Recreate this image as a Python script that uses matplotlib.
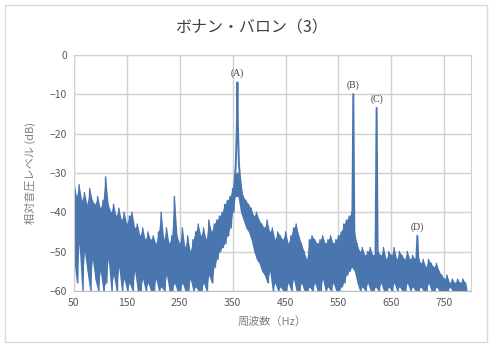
import matplotlib
matplotlib.use('Agg')
import numpy as np
import matplotlib.pyplot as plt
from matplotlib.patches import Rectangle

plt.rcParams['font.family'] = ['Noto Sans CJK JP', 'DejaVu Sans']

# noise floor, sampled every 5 Hz: upper and lower swing of the spectrum
freq = list(range(50, 795, 5))
hi_db = [
    -32, -36, -33, -37, -35, -38, -34, -37, -38, -36,
    -39, -37, -31, -38, -40, -38, -41, -39, -42, -40,
    -43, -41, -40, -44, -43, -46, -44, -47, -45, -47,
    -46, -48, -45, -40, -47, -44, -48, -46, -36, -46,
    -48, -44, -49, -46, -50, -47, -45, -43, -46, -44,
    -47, -42, -45, -43, -42, -41, -40, -38, -37, -36,
    -34, -30, -30, -33, -36, -37, -38, -39, -41, -40,
    -42, -43, -44, -42, -45, -44, -47, -45, -46, -47,
    -45, -48, -46, -44, -43, -46, -48, -50, -52, -47,
    -46, -47, -48, -47, -46, -48, -47, -46, -48, -47,
    -46, -45, -43, -42, -41, -40, -45, -48, -50, -49,
    -51, -50, -49, -51, -50, -50, -51, -49, -52, -50,
    -51, -49, -52, -50, -51, -52, -50, -52, -51, -52,
    -51, -53, -52, -54, -52, -53, -54, -53, -55, -56,
    -57, -56, -58, -57, -58, -57, -58, -57, -58,
]
lo_db = [
    -52, -58, -48, -60, -50, -55, -60, -52, -57, -60,
    -55, -60, -58, -52, -60, -56, -60, -54, -60, -57,
    -60, -58, -60, -55, -60, -60, -57, -60, -58, -60,
    -60, -57, -60, -59, -60, -56, -60, -60, -58, -60,
    -60, -58, -60, -60, -57, -60, -59, -60, -60, -58,
    -60, -56, -58, -54, -52, -50, -49, -48, -46, -44,
    -40, -36, -36, -40, -42, -44, -45, -47, -50, -52,
    -53, -55, -56, -58, -55, -60, -58, -60, -59, -60,
    -60, -58, -60, -57, -60, -60, -58, -60, -60, -59,
    -60, -58, -60, -60, -57, -60, -59, -60, -58, -60,
    -60, -59, -58, -56, -55, -54, -55, -58, -60, -59,
    -60, -58, -60, -60, -59, -60, -58, -60, -60, -59,
    -60, -58, -60, -59, -60, -60, -58, -60, -59, -60,
    -60, -59, -60, -60, -58, -60, -60, -59, -60, -60,
    -60, -60, -59, -60, -60, -60, -60, -60, -60,
]

# tonal peaks
peak_a_freq = [347, 351, 354, 356, 358, 359, 360, 362, 364, 367, 371]
peak_a_db = [-40, -36, -32, -28, -18, -7, -18, -28, -31, -35, -38]
peak_b_freq = [576, 578, 580]
peak_b_db = [-45, -10, -46]
peak_c_freq = [620, 622, 624]
peak_c_db = [-50, -13.5, -51]
peak_d_freq = [697, 699, 701]
peak_d_db = [-52, -46, -53]

peak_labels = ['(A)', '(B)', '(C)', '(D)']
label_freq = [359, 578, 622, 699]
label_db = [-4.6, -7.8, -11.4, -43.8]

xticks = list(range(50, 800, 100))
yticks = list(range(-60, 1, 10))

line_color = '#4a76b0'
grid_color = '#d0d0d0'
text_color = '#595959'

fig = plt.figure(figsize=(4.92, 3.45), dpi=100)
ax = fig.add_axes([0.150, 0.157, 0.807, 0.684])

# the dense noise band, then the zigzag between upper and lower swings
f = np.asarray(freq, dtype=float)
ax.fill_between(f, hi_db, lo_db, color=line_color, lw=0)
x_noise = np.column_stack([f, f + 2.5]).ravel()
y_noise = np.column_stack([hi_db, lo_db]).ravel()
ax.plot(x_noise, y_noise, color=line_color, lw=1.0)

for px, py in [(peak_a_freq, peak_a_db), (peak_b_freq, peak_b_db),
               (peak_c_freq, peak_c_db), (peak_d_freq, peak_d_db)]:
    ax.plot(px, py, color=line_color, lw=1.4)

for lab, lx, ly in zip(peak_labels, label_freq, label_db):
    ax.text(lx, ly, lab, ha='center', va='center', fontsize=7,
            family='Liberation Serif', color='#404040')

ax.set_xlim(50, 800)
ax.set_ylim(-60, 0)
ax.set_xticks(xticks)
ax.set_yticks(yticks)
ax.grid(True, color=grid_color, lw=1.0)
ax.set_axisbelow(True)
ax.tick_params(length=0, labelsize=7.5, labelcolor=text_color, pad=5)
for s in ax.spines.values():
    s.set_color(grid_color)
ax.spines['bottom'].set_color('#bfbfbf')

ax.set_xlabel('周波数（Hz）', fontsize=8, color='#7f7f7f', labelpad=6)
ax.set_ylabel('相対音圧レベル (dB)', fontsize=8, color='#7f7f7f', labelpad=10)

fig.text(0.51, 0.918, 'ボナン・バロン（3）', ha='center', va='center',
         fontsize=11.5, color='#404040')

fig.patches.append(Rectangle((0.01, 0.008), 0.98, 0.978, transform=fig.transFigure,
                             fill=False, edgecolor='#d9d9d9', lw=1.0))

fig.savefig('out.png', dpi=100)
